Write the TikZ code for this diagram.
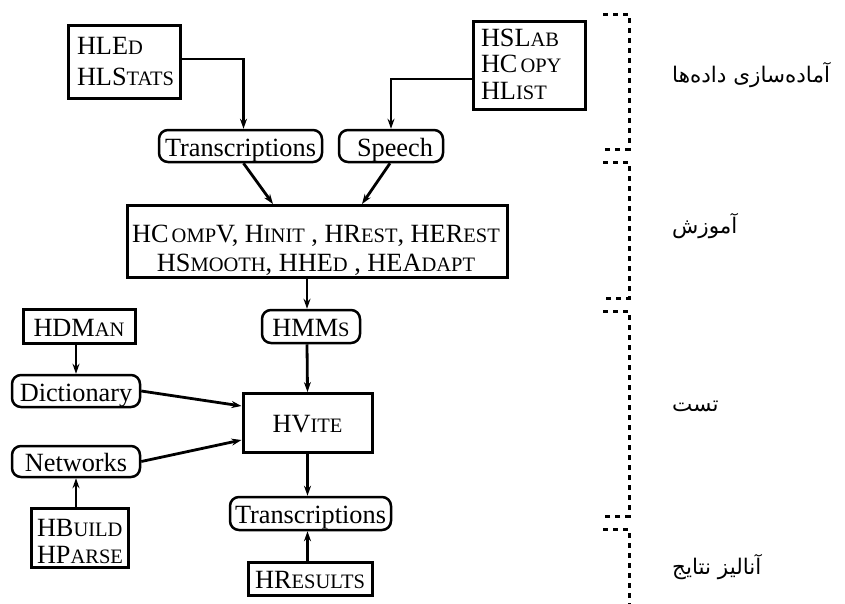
\documentclass[tikz,border=0pt]{standalone}
\usepackage{fontspec}
\setmainfont{Liberation Serif}
\newfontfamily\fafont[Script=Arabic]{DejaVu Sans}
\TeXXeTstate=1
\usetikzlibrary{arrows.meta}
% hand-made small capitals
\newcommand{\smc}[1]{{\fontsize{20.5}{20.5}\selectfont #1}}
% stacked lines set at a fixed spacing:
% #1 alignment (l or c), #2 horizontal start offset, #3 drop of the last
% baseline below the node centre, #4 line spacing, #5 the lines
\newcommand{\stack}[5]{\raisebox{-#3}[0pt][0pt]{\makebox[0pt][#1]{\hspace*{#2}%
  {\fontsize{26.3}{#4}\selectfont\begin{tabular}[b]{@{}#1@{}}#5\end{tabular}}}}}
\tikzset{
  tool/.style={draw, line width=3pt, inner sep=0pt, align=center,
    font=\fontsize{26.3}{29}\selectfont},
  one/.style={text height=19pt, text depth=0pt},
  data/.style={draw, line width=2.5pt, rounded corners=9pt, inner sep=0pt,
    text height=20pt, text depth=0pt, font=\fontsize{26.3}{29}\selectfont},
  arr/.style={line width=2.8pt, -{Stealth[length=10pt,width=7pt]}},
  phase/.style={line width=3pt, dash pattern=on 5pt off 5pt},
  lbl/.style={anchor=west, inner sep=0pt, font=\fafont\fontsize{21.5}{26}\selectfont}
}
\begin{document}
\begin{tikzpicture}[x=1pt, y=-1pt]
\useasboundingbox (0,0) rectangle (845,603);

% tool boxes
\node[tool, minimum width=112pt, minimum height=73pt] (hled) at (124,62)
  {\stack{l}{-47pt}{23pt}{31pt}{HLE\smc{D}\\HLS\smc{TATS}}};
\node[tool, minimum width=112pt, minimum height=88pt] (hslab) at (529,65)
  {\stack{l}{-48pt}{34pt}{26.5pt}{HSL\smc{AB}\\HC\hspace{3pt}\smc{OPY}\\HL\smc{IST}}};
\node[tool, minimum width=380pt, minimum height=72pt] (train) at (317,241.5)
  {\stack{c}{-2pt}{30pt}{29pt}{HC\hspace{3pt}\smc{OMP}V, H\smc{INIT} , HR\smc{EST}, HER\smc{EST}\\
   HS\smc{MOOTH}, HHE\smc{D} , HEA\smc{DAPT}}};
\node[tool, one, minimum width=129pt, minimum height=59pt] (hvite) at (307.5,423) {HV\smc{ITE}};
\node[tool, one, minimum width=112pt, minimum height=34pt] (hdman) at (79,326.5) {HDM\smc{AN}};
\node[tool, minimum width=97pt, minimum height=59pt] (hbuild) at (79.5,538)
  {\stack{l}{-42.5pt}{25pt}{27pt}{HB\smc{UILD}\\HP\smc{ARSE}}};
\node[tool, one, minimum width=124pt, minimum height=33pt] (hres) at (310,578.5) {HR\smc{ESULTS}};

% data items
\node[data, minimum width=163pt, minimum height=32pt] (trans1) at (240.5,146) {Transcriptions};
\node[data, minimum width=104pt, minimum height=32pt] (speech) at (391,146) {\hspace{8pt}Speech};
\node[data, minimum width=98pt, minimum height=33pt] (hmms) at (311,326.5) {HMM\smc{S}};
\node[data, minimum width=128pt, minimum height=32pt] (dict) at (76,391) {Dictionary};
\node[data, minimum width=128pt, minimum height=31pt] (netw) at (76,461.5) {Networks};
\node[data, minimum width=161pt, minimum height=33pt] (trans2) at (310.5,513.5) {Transcriptions};

% connectors
\draw[arr] ([yshift=3pt]hled.east) -| ([xshift=3pt]trans1.north);
\draw[arr] ([yshift=-14pt]hslab.west) -| (speech.north);
\draw[arr] ([xshift=3pt]trans1.south) -- ([xshift=-44pt]train.north);
\draw[arr] ([xshift=-1pt]speech.south) -- ([xshift=45pt]train.north);
\draw[arr] ([xshift=-10pt]train.south) -- ([xshift=-4pt]hmms.north);
\draw[arr] ([xshift=-4pt]hmms.south) -- (hvite.north);
\draw[arr] (dict.north |- hdman.south) -- (dict.north);
\draw[arr] (dict.east) -- ([yshift=17pt]hvite.west);
\draw[arr] (netw.east) -- ([yshift=-17pt]hvite.west);
\draw[arr] (netw.south |- hbuild.north) -- (netw.south);
\draw[arr] (hvite.south) -- (hvite.south |- trans2.north);
\draw[arr] (hvite.south |- hres.north) -- (hvite.south |- trans2.south);

% phase brackets
\draw[phase] (603,14) -- (629,14) -- (629,149) -- (603,149);
\draw[phase] (603,162) -- (629,162) -- (629,298) -- (603,298);
\draw[phase] (603,311) -- (629,311) -- (629,516) -- (603,516);
\draw[phase] (603,529) -- (629,529) -- (629,612);

% phase labels
\node[lbl] (p1) at (672,75) {\beginR آماده‌سازی داده‌ها\endR};
\node[lbl] (p2) at (672,226) {\beginR آموزش\endR};
\node[lbl] (p3) at (672,406) {\beginR تست\endR};
\node[lbl] (p4) at (672,567) {\beginR آنالیز نتایج\endR};
\end{tikzpicture}
\end{document}
